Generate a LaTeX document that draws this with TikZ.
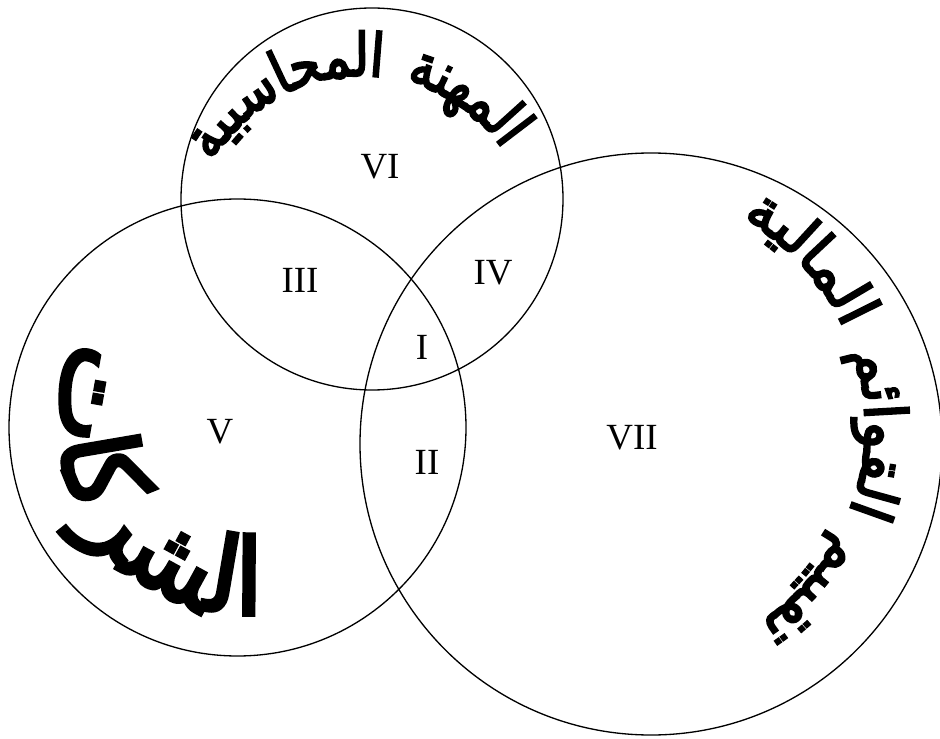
\documentclass[tikz,border=0pt]{standalone}
\usepackage{fontspec}
\newfontfamily\arabicfont[Script=Arabic, FakeBold=3.5]{DejaVu Sans}
\newfontfamily\arabictall[Script=Arabic, FakeBold=3.5, FakeStretch=0.82]{DejaVu Sans}
\newfontfamily\romanfont{Liberation Serif}
\TeXXeTstate=1
\usetikzlibrary{calc}

\newbox\glyphbox
\newdimen\glyphwd
\newdimen\runwd
\def\J{^^^^200d}
% width of one letter, measured outside the picture's null font
\newcommand\measureglyph[3]{%
  \pgfinterruptpicture
    \global\setbox\glyphbox=\hbox{#1\fontsize{#2}{#2}\selectfont #3}%
  \endpgfinterruptpicture
  \glyphwd=\wd\glyphbox
}
% letters set one by one along an arc:
% name, font, centre, radius, mid angle, side (1 = tops out, -1 = tops in), arc length, letter/gap list
\newcommand\arcword[8]{%
  \global\runwd=0pt
  \foreach \ch/\gap in {#8} {%
    \measureglyph{#2}{10}{\ch}%
    \global\advance\runwd by \glyphwd
    \global\advance\runwd by \gap\dimexpr 4pt\relax
  }%
  \ifdim\runwd<1pt \global\runwd=100pt \fi
  \pgfmathsetmacro\arcfs{10*#7*0.569055/\runwd}%
  \pgfmathsetmacro\startang{#5-(#6)*#7/(2*#4)*57.29578}%
  \xdef\curang{\startang}%
  \foreach \ch/\gap [count=\i] in {#8} {%
    \measureglyph{#2}{\arcfs}{\ch}%
    \pgfmathsetmacro\midang{\curang+(#6)*(\glyphwd/0.569055)/(2*#4)*57.29578}%
    \pgfmathsetmacro\rot{\midang-90*(#6)}%
    \node[arabic letter, font=#2\fontsize{\arcfs}{\arcfs}\selectfont, rotate=\rot]
      (#1-\i) at ($(#3)+(\midang:#4)$) {\beginR\ch\endR};
    \pgfmathsetmacro\nextang{\curang+(#6)*(\glyphwd/0.569055+\gap*0.4*\arcfs/0.569055)/#4*57.29578}%
    \xdef\curang{\nextang}%
  }%
}

\begin{document}
\begin{tikzpicture}[x=0.02cm, y=0.02cm,
    ring/.style={line width=0.75pt},
    num/.style={font=\romanfont\fontsize{21}{21}\selectfont, inner sep=0pt},
    arabic letter/.style={inner sep=0pt, anchor=base},
  ]
  \useasboundingbox (0,0) rectangle (940,738);
  % circle centres
  \coordinate (acc) at (372,539);
  \coordinate (com) at (237.5,310.5);
  \coordinate (fin) at (651,294);

  % --- the three sets ---
  \draw[ring] (acc) circle[radius=191];
  \draw[ring] (com) circle[radius=228.5];
  \draw[ring] (fin) circle[radius=291];

  % --- region numbers ---
  \node[num] (r1) at (422,391) {I};
  \node[num] (r2) at (427,276) {II};
  \node[num] (r3) at (300,458) {III};
  \node[num] (r4) at (493,465) {IV};
  \node[num] (r5) at (220,306) {V};
  \node[num] (r6) at (380,571) {VI};
  \node[num] (r7) at (632,300) {VII};

  % --- curved titles ---
  \coordinate (acc text) at (362,490);
  \coordinate (fin text) at (630,312);
  \coordinate (com text) at (250,315);
  \arcword{profession}{\arabictall}{acc text}{172}{92.5}{1}{345}{ا/0, ل\J/0, \J م\J/0, \J ه\J/0, \J ن\J/0, \J ة/1,
    ا/0, ل\J/0, \J م\J/0, \J ح\J/0, \J ا/0, س\J/0, \J ب\J/0, \J ي\J/0, \J ة/0}
  \arcword{statements}{\arabicfont}{fin text}{235}{2.5}{1}{485}{ت\J/0, \J ق\J/0, \J ي\J/0, \J ي\J/0, \J م/1,
    ا/0, ل\J/0, \J ق\J/0, \J و/0, ا/0, ئ\J/0, \J م/1,
    ا/0, ل\J/0, \J م\J/0, \J ا/0, ل\J/0, \J ي\J/0, \J ة/0}
  \arcword{companies}{\arabicfont}{com text}{192}{214.5}{-1}{399}{ا/0, ل\J/0, \J ش\J/0, \J ر/0, ك\J/0, \J ا/0, ت/0}
\end{tikzpicture}
\end{document}
